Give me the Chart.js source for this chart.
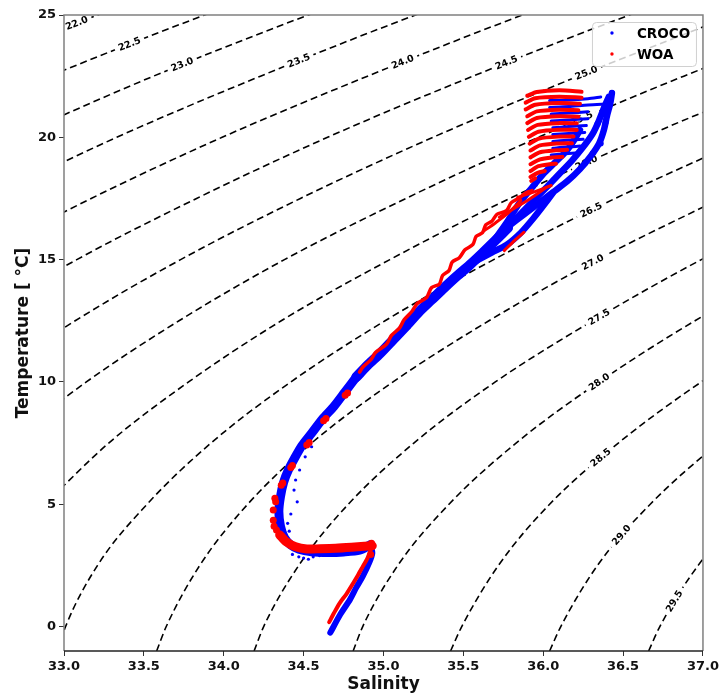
<!DOCTYPE html>
<html lang="en">
<head>
  <meta charset="UTF-8">
  <title>T-S diagram CROCO / WOA</title>
  <script src="https://cdn.jsdelivr.net/npm/chart.js"></script>
  <style>
    body {
      margin: 0;
      background: #fff;
    }
    #wrap {
      width: 722px;
      height: 697px;
    }
  </style>
</head>
<body>

<div id="wrap"><canvas id="tsChart" width="722" height="697"></canvas></div>

<script>
  // axis ticks
  const xTicks = [33.0, 33.5, 34.0, 34.5, 35.0, 35.5, 36.0, 36.5, 37.0];
  const yTicks = [0, 5, 10, 15, 20, 25];

  // sigma-0 isopycnals, [salinity, temperature]
  const sigmaLevels = [22.0, 22.5, 23.0, 23.5, 24.0, 24.5, 25.0, 25.5, 26.0, 26.5, 27.0, 27.5, 28.0, 28.5, 29.0, 29.5];
  const c220 = [[32.25, 22.5], [33.21, 25], [34.25, 27.5]];
  const c225 = [[32.02, 20], [32.91, 22.5], [33.88, 25], [34.92, 27.5]];
  const c230 = [[32.68, 20], [33.56, 22.5], [34.53, 25], [35.59, 27.5]];
  const c235 = [[32.52, 17.5], [33.33, 20], [34.23, 22.5], [35.20, 25], [36.26, 27.5]];
  const c240 = [[32.43, 15], [33.17, 17.5], [33.99, 20], [34.90, 22.5], [35.87, 25], [36.93, 27.5]];
  const c245 = [[32.42, 12.5], [33.08, 15], [33.83, 17.5], [34.65, 20], [35.56, 22.5], [36.54, 25], [37.60, 27.5]];
  const c250 = [[32.49, 10], [33.07, 12.5], [33.73, 15], [34.48, 17.5], [35.31, 20], [36.22, 22.5], [37.19, 25]];
  const c255 = [[32.64, 7.5], [33.14, 10], [33.72, 12.5], [34.38, 15], [35.14, 17.5], [35.97, 20], [36.88, 22.5], [37.87, 25]];
  const c260 = [[32.88, 5], [33.28, 7.5], [33.78, 10], [34.36, 12.5], [35.04, 15], [35.79, 17.5], [36.63, 20], [37.55, 22.5]];
  const c265 = [[32.96, -1], [33.01, 0], [33.21, 2.5], [33.52, 5], [33.92, 7.5], [34.42, 10], [35.01, 12.5], [35.69, 15], [36.45, 17.5], [37.29, 20]];
  const c270 = [[33.58, -1], [33.64, 0], [33.85, 2.5], [34.15, 5], [34.55, 7.5], [35.06, 10], [35.66, 12.5], [36.34, 15], [37.11, 17.5]];
  const c275 = [[34.19, -1], [34.25, 0], [34.47, 2.5], [34.78, 5], [35.19, 7.5], [35.70, 10], [36.31, 12.5], [36.99, 15], [37.77, 17.5]];
  const c280 = [[34.81, -1], [34.87, 0], [35.09, 2.5], [35.41, 5], [35.83, 7.5], [36.35, 10], [36.95, 12.5], [37.64, 15]];
  const c285 = [[35.42, -1], [35.49, 0], [35.72, 2.5], [36.04, 5], [36.47, 7.5], [36.99, 10], [37.60, 12.5]];
  const c290 = [[36.04, -1], [36.11, 0], [36.34, 2.5], [36.67, 5], [37.10, 7.5], [37.63, 10]];
  const c295 = [[36.66, -1], [36.73, 0], [36.97, 2.5], [37.31, 5], [37.74, 7.5]];
  // salinity where each contour label sits
  const labelS = [33.08, 33.41, 33.74, 34.47, 35.12, 35.77, 36.27, 36.24, 36.27, 36.30, 36.31, 36.35, 36.35, 36.36, 36.49, 36.82];

  // CROCO (blue)
  const crocoDeep = [[34.667, -0.25], [34.73, 0.5], [34.79, 1.1], [34.83, 1.6], [34.87, 2.05], [34.91, 2.6], [34.93, 3.0], [34.92, 3.35]];
  const crocoBend = [[34.92, 3.35], [34.85, 3.12], [34.75, 3.05], [34.65, 3.03], [34.55, 3.06], [34.47, 3.16], [34.42, 3.33],
    [34.38, 3.63], [34.355, 4.1], [34.345, 4.7], [34.355, 5.3], [34.375, 5.9], [34.405, 6.4], [34.445, 6.9], [34.49, 7.4],
    [34.55, 7.9], [34.62, 8.5], [34.69, 9.0], [34.76, 9.6], [34.83, 10.2]];
  const crocoMid = [[34.83, 10.2], [34.90, 10.68], [34.98, 11.17], [35.06, 11.72], [35.14, 12.27], [35.22, 12.85], [35.30, 13.35],
    [35.38, 13.85], [35.46, 14.33], [35.54, 14.78], [35.62, 15.27], [35.70, 15.78], [35.78, 16.3]];
  const crocoUpper = [
    [[35.70, 15.85], [35.78, 16.6], [35.85, 17.3], [35.93, 17.95], [36.00, 18.5], [36.07, 18.95], [36.14, 19.4], [36.19, 19.85], [36.23, 20.3]],
    [[35.74, 16.1], [35.84, 16.75], [35.93, 17.35], [36.02, 17.95], [36.10, 18.5], [36.18, 19.05], [36.25, 19.6], [36.31, 20.15], [36.35, 20.7], [36.38, 21.2], [36.41, 21.65]],
    [[35.78, 16.35], [35.88, 16.85], [35.97, 17.3], [36.06, 17.75], [36.15, 18.2], [36.23, 18.7], [36.30, 19.25], [36.35, 19.75], [36.38, 20.3], [36.40, 20.9], [36.42, 21.4], [36.43, 21.8]],
    [[35.58, 14.95], [35.68, 15.3], [35.77, 15.6], [35.86, 16.1], [35.94, 16.7], [36.00, 17.2], [36.06, 17.72]]
  ];
  const crocoStripes = [
    [[36.04, 21.50], [36.16, 21.52], [36.28, 21.58], [36.36, 21.65]],
    [[36.04, 21.22], [36.16, 21.26], [36.28, 21.32], [36.40, 21.36]],
    [[36.05, 20.95], [36.16, 20.99], [36.28, 21.04]],
    [[36.05, 20.67], [36.16, 20.71], [36.28, 20.76]],
    [[36.06, 20.39], [36.16, 20.44], [36.27, 20.48]],
    [[36.06, 20.11], [36.16, 20.16], [36.26, 20.20]],
    [[36.06, 19.83], [36.15, 19.88], [36.25, 19.92]],
    [[36.06, 19.55], [36.14, 19.60], [36.23, 19.64]],
    [[36.05, 19.28], [36.12, 19.32], [36.20, 19.36]]
  ];
  const crocoTips = [[36.43, 21.82], [36.41, 21.4], [36.39, 20.6], [36.36, 19.75], [36.31, 19.35], [36.34, 20.55]];
  const crocoScatter = [[34.44, 5.58], [34.45, 5.99], [34.475, 6.4], [34.51, 6.94], [34.55, 7.35], [34.40, 4.22], [34.42, 4.6],
    [34.46, 5.1], [34.47, 2.85], [34.50, 2.8], [34.53, 2.75], [34.56, 2.85], [34.43, 2.95], [34.60, 2.9], [34.41, 3.9]];

  // WOA (red)
  const woaDeep = [[34.66, 0.18], [34.69, 0.55], [34.725, 0.95], [34.77, 1.35], [34.81, 1.77], [34.84, 2.1], [34.87, 2.45], [34.90, 2.8], [34.92, 3.13]];
  const woaBend = [[34.93, 3.3], [34.88, 3.28], [34.80, 3.24], [34.70, 3.2], [34.60, 3.18], [34.52, 3.17], [34.45, 3.26], [34.39, 3.47], [34.35, 3.75]];
  const woaBlobs = [[34.92, 2.95], [34.925, 3.4], [34.33, 3.95], [34.315, 4.1], [34.31, 4.35], [34.31, 4.76], [34.32, 5.24], [34.325, 5.1],
    [34.36, 5.78], [34.37, 5.87], [34.42, 6.5], [34.43, 6.58], [34.52, 7.42], [34.535, 7.52], [34.625, 8.41], [34.64, 8.5], [34.76, 9.46], [34.775, 9.55]];
  const woaMid = [[34.85, 10.4], [34.87, 10.6], [34.92, 10.9], [34.95, 11.2], [35.02, 11.55], [35.05, 11.9], [35.10, 12.2],
    [35.13, 12.55], [35.18, 12.9], [35.21, 13.2], [35.27, 13.45], [35.30, 13.85], [35.35, 14.0], [35.37, 14.35], [35.41, 14.55],
    [35.43, 14.9], [35.475, 15.08], [35.51, 15.4], [35.56, 15.62], [35.58, 15.95], [35.62, 16.1], [35.64, 16.42], [35.68, 16.58],
    [35.71, 16.85], [35.77, 17.0], [35.80, 17.33], [35.85, 17.52], [35.89, 17.72], [35.93, 17.82]];
  const woaStrands = [
    [[35.63, 16.18], [35.70, 16.5], [35.78, 16.9], [35.86, 17.42]],
    [[35.725, 16.73], [35.78, 16.95], [35.83, 17.14], [35.92, 17.5], [36.02, 17.96]],
    [[35.84, 17.55], [35.94, 17.76], [36.05, 18.03]],
    [[35.756, 15.37], [35.82, 15.78], [35.88, 16.12]]
  ];
  const woaFan = [
    [[35.90, 21.70], [35.96, 21.85], [36.10, 21.92], [36.24, 21.86]],
    [[35.89, 21.42], [35.95, 21.60], [36.10, 21.66], [36.24, 21.62]],
    [[35.89, 21.14], [35.95, 21.33], [36.10, 21.40], [36.23, 21.37]],
    [[35.90, 20.86], [35.96, 21.06], [36.10, 21.13], [36.22, 21.11]],
    [[35.90, 20.58], [35.96, 20.79], [36.10, 20.86], [36.22, 20.84]],
    [[35.905, 20.30], [35.965, 20.51], [36.10, 20.58], [36.21, 20.57]],
    [[35.91, 20.02], [35.97, 20.23], [36.10, 20.31], [36.21, 20.30]],
    [[35.915, 19.74], [35.975, 19.95], [36.10, 20.03], [36.19, 20.03]],
    [[35.92, 19.46], [35.98, 19.67], [36.09, 19.75], [36.18, 19.76]],
    [[35.92, 19.18], [35.98, 19.39], [36.08, 19.47], [36.15, 19.49]],
    [[35.92, 18.90], [35.98, 19.10], [36.06, 19.18], [36.12, 19.20]],
    [[35.92, 18.62], [35.97, 18.82], [36.04, 18.90], [36.08, 18.92]],
    [[35.92, 18.38], [35.965, 18.55], [36.01, 18.62]],
    [[35.925, 18.22], [35.95, 18.32]]
  ];

  const BLUE = '#0000ff';
  const RED = '#ff0000';
  const FONT = "'DejaVu Sans', sans-serif";

  function pts(list) {
    return list.map(([x, y]) => ({ x: x, y: y }));
  }
  function track(list, color, width, order) {
    return {
      data: pts(list), showLine: true, borderColor: color, backgroundColor: color,
      borderWidth: width, pointRadius: 0, pointBorderWidth: 0, tension: 0.25,
      borderCapStyle: 'round', borderJoinStyle: 'round', order: order
    };
  }
  function dots(list, color, r, order) {
    return {
      data: pts(list), showLine: false, borderColor: color, backgroundColor: color,
      pointRadius: r, pointBorderWidth: 0, order: order
    };
  }

  const sigmaLines = [c220, c225, c230, c235, c240, c245, c250, c255, c260, c265, c270, c275, c280, c285, c290, c295];
  const datasets = [];

  // WOA on top, then CROCO, then isopycnals
  datasets.push(track(woaDeep, RED, 4, 1));
  datasets.push(track(woaBend, RED, 9, 1));
  datasets.push(dots(woaBlobs, RED, 3.5, 1));
  datasets.push(track(woaMid, RED, 3.5, 1));
  woaStrands.forEach(s => datasets.push(track(s, RED, 3, 1)));
  woaFan.forEach(s => datasets.push(track(s, RED, 4, 1)));

  datasets.push(track(crocoDeep, BLUE, 6, 5));
  datasets.push(track(crocoBend, BLUE, 9, 5));
  datasets.push(track(crocoMid, BLUE, 10, 5));
  crocoUpper.forEach(s => datasets.push(track(s, BLUE, 6.5, 5)));
  crocoStripes.forEach(s => datasets.push(track(s, BLUE, 3, 5)));
  datasets.push(dots(crocoTips, BLUE, 3, 5));
  datasets.push(dots(crocoScatter, BLUE, 1.6, 5));

  sigmaLines.forEach((c, i) => {
    datasets.push({
      data: pts(c), showLine: true, borderColor: '#000', borderWidth: 1.6, borderDash: [7, 4],
      pointRadius: 0, cubicInterpolationMode: 'monotone', order: 10,
      level: sigmaLevels[i], labelS: labelS[i]
    });
  });

  // inline contour labels, drawn right after each dashed line
  const isoLabels = {
    id: 'isoLabels',
    afterDatasetDraw(chart, args) {
      const ds = chart.data.datasets[args.index];
      if (ds.level === undefined) return;
      const xs = chart.scales.x, ys = chart.scales.y, c = chart.ctx;
      const d = ds.data;
      let k = 0;
      while (k < d.length - 2 && d[k + 1].x < ds.labelS) k++;
      const x0 = xs.getPixelForValue(d[k].x), y0 = ys.getPixelForValue(d[k].y);
      const x1 = xs.getPixelForValue(d[k + 1].x), y1 = ys.getPixelForValue(d[k + 1].y);
      const px = xs.getPixelForValue(ds.labelS);
      let py = y0 + (px - x0) / (x1 - x0) * (y1 - y0);
      let ang = Math.atan2(y1 - y0, x1 - x0);
      const line = args.meta.dataset;
      if (line && line.interpolate) {
        const p = line.interpolate({ x: px }, 'x');
        const pa = line.interpolate({ x: px - 4 }, 'x');
        const pb = line.interpolate({ x: px + 4 }, 'x');
        if (p && pa && pb) {
          py = p.y;
          ang = Math.atan2(pb.y - pa.y, pb.x - pa.x);
        }
      }
      const text = ds.level.toFixed(1);
      c.save();
      c.font = 'bold 9.5px ' + FONT;
      const w = c.measureText(text).width;
      c.translate(px, py);
      c.rotate(ang);
      c.fillStyle = '#fff';
      c.fillRect(-w / 2 - 4, -6, w + 8, 12);
      c.fillStyle = '#000';
      c.textAlign = 'center';
      c.textBaseline = 'middle';
      c.fillText(text, 0, 0.5);
      c.restore();
    }
  };

  // axes frame on top of the data
  const frame = {
    id: 'frame',
    afterDatasetsDraw(chart) {
      const a = chart.chartArea, c = chart.ctx;
      c.save();
      c.lineWidth = 1.5;
      c.strokeStyle = '#808080';
      c.beginPath();
      c.moveTo(a.left, a.bottom);
      c.lineTo(a.left, a.top);
      c.lineTo(a.right, a.top);
      c.lineTo(a.right, a.bottom);
      c.stroke();
      c.strokeStyle = '#222';
      c.lineWidth = 1.3;
      c.beginPath();
      c.moveTo(a.left, a.bottom);
      c.lineTo(a.right, a.bottom);
      c.stroke();
      c.restore();
    }
  };

  // legend box in the upper right corner of the axes
  const tsLegend = {
    id: 'tsLegend',
    afterDraw(chart) {
      const a = chart.chartArea, c = chart.ctx;
      const bx = a.right - 111, by = a.top + 7, bw = 104, bh = 44;
      c.save();
      c.beginPath();
      c.roundRect(bx + 0.5, by + 0.5, bw, bh, 4);
      c.fillStyle = 'rgba(255,255,255,0.8)';
      c.fill();
      c.strokeStyle = '#d0d0d0';
      c.lineWidth = 1;
      c.stroke();
      const items = [['CROCO', BLUE], ['WOA', RED]];
      items.forEach(([name, col], i) => {
        const yy = by + 11 + i * 21;
        c.fillStyle = col;
        c.beginPath();
        c.arc(bx + 20, yy, 1.7, 0, Math.PI * 2);
        c.fill();
        c.fillStyle = '#000';
        c.font = 'bold 13.5px ' + FONT;
        c.textBaseline = 'middle';
        c.fillText(name, bx + 45, yy + 1);
      });
      c.restore();
    }
  };

  const tickFont = { family: FONT, size: 13, weight: 'bold' };
  const titleFont = { family: FONT, size: 17, weight: 'bold' };

  new Chart(document.getElementById('tsChart'), {
    type: 'scatter',
    data: { datasets: datasets },
    options: {
      responsive: false,
      animation: false,
      devicePixelRatio: 1,
      events: [],
      layout: { padding: { left: 0, right: 18, top: 15, bottom: 0 } },
      plugins: {
        legend: { display: false },
        tooltip: { enabled: false }
      },
      scales: {
        x: {
          type: 'linear',
          min: 33,
          max: 37,
          afterBuildTicks: axis => { axis.ticks = xTicks.map(v => ({ value: v })); },
          afterFit: axis => { axis.height = 46; },
          ticks: { font: tickFont, color: '#111', padding: 3, maxRotation: 0, callback: v => v.toFixed(1) },
          grid: { drawOnChartArea: false, drawTicks: true, tickLength: 5, color: '#333' },
          border: { display: false },
          title: { display: true, text: 'Salinity', font: titleFont, color: '#111', padding: { top: 0, bottom: 2 } }
        },
        y: {
          type: 'linear',
          min: -1,
          max: 25,
          afterBuildTicks: axis => { axis.ticks = yTicks.map(v => ({ value: v })); },
          afterFit: axis => { axis.width = 64; },
          ticks: { font: tickFont, color: '#111', padding: 3, callback: v => String(v) },
          grid: { drawOnChartArea: false, drawTicks: true, tickLength: 5, color: '#333' },
          border: { display: false },
          title: { display: true, text: 'Temperature [ °C]', font: titleFont, color: '#111', padding: { top: 13, bottom: 0 } }
        }
      }
    },
    plugins: [isoLabels, frame, tsLegend]
  });
</script>

</body>
</html>
